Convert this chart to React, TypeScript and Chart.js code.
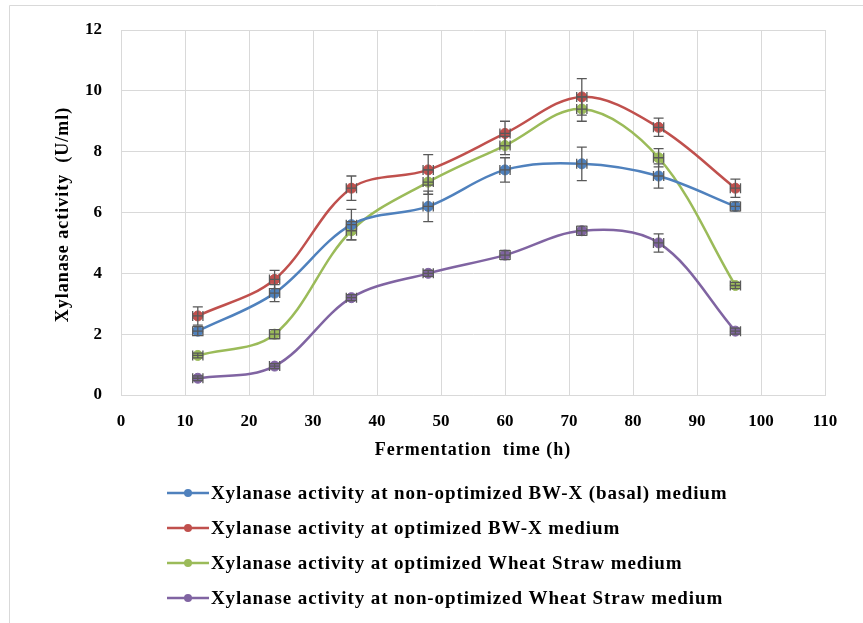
import { useEffect, useRef } from "react";
import { Chart, registerables } from "chart.js";

Chart.register(...registerables);

// ---- data ----
const timeHours = [12, 24, 36, 48, 60, 72, 84, 96];

const basalBWX = [2.1, 3.35, 5.6, 6.2, 7.4, 7.6, 7.2, 6.2];
const basalBWXErr = [0.15, 0.28, 0.5, 0.5, 0.4, 0.55, 0.4, 0.15];

const optimizedBWX = [2.6, 3.8, 6.8, 7.4, 8.6, 9.8, 8.8, 6.8];
const optimizedBWXErr = [0.3, 0.3, 0.4, 0.5, 0.4, 0.6, 0.3, 0.3];

const optimizedWheat = [1.3, 2.0, 5.4, 7.0, 8.2, 9.4, 7.8, 3.6];
const optimizedWheatErr = [0.08, 0.15, 0.3, 0.4, 0.3, 0.4, 0.3, 0.1];

const nonOptimizedWheat = [0.55, 0.95, 3.2, 4.0, 4.6, 5.4, 5.0, 2.1];
const nonOptimizedWheatErr = [0.08, 0.08, 0.1, 0.1, 0.15, 0.15, 0.3, 0.1];

const timeErr = 0.8;

const seriesLabels = [
  "Xylanase activity at non-optimized BW-X (basal) medium",
  "Xylanase activity at optimized BW-X medium",
  "Xylanase activity at optimized Wheat Straw medium",
  "Xylanase activity at non-optimized Wheat Straw medium",
];
const seriesValues = [basalBWX, optimizedBWX, optimizedWheat, nonOptimizedWheat];
const seriesErrors = [basalBWXErr, optimizedBWXErr, optimizedWheatErr, nonOptimizedWheatErr];
const seriesColors = ["#4F81BD", "#C0504D", "#9BBB59", "#8064A2"];

const xAxisTitle = "Fermentation  time (h)";
const yAxisTitle = "Xylanase activity  (U/ml)";
const xMin = 0, xMax = 110, xStep = 10;
const yMin = 0, yMax = 12, yStep = 2;

const FONT = "'Liberation Serif', 'Times New Roman', serif";
const GRID = "#d9d9d9";

const framePlugin = {
  id: "frame",
  beforeDraw(chart: any) {
    const c = chart.ctx;
    c.save();
    c.fillStyle = "#ffffff";
    c.fillRect(0, 0, chart.width, chart.height);
    c.strokeStyle = GRID;
    c.lineWidth = 1;
    c.beginPath();
    c.moveTo(9.5, chart.height);
    c.lineTo(9.5, 5.5);
    c.lineTo(chart.width, 5.5);
    c.stroke();
    c.restore();
  },
};

const errorBarPlugin = {
  id: "errorBars",
  afterDatasetsDraw(chart: any) {
    const c = chart.ctx;
    const xs = chart.scales.x;
    const ys = chart.scales.y;
    c.save();
    c.strokeStyle = "#595959";
    c.lineWidth = 1.3;
    seriesErrors.forEach((errs, si) => {
      const vals = seriesValues[si];
      timeHours.forEach((t, i) => {
        const px = xs.getPixelForValue(t);
        const py = ys.getPixelForValue(vals[i]);
        const top = ys.getPixelForValue(vals[i] + errs[i]);
        const bot = ys.getPixelForValue(vals[i] - errs[i]);
        const l = xs.getPixelForValue(t - timeErr);
        const r = xs.getPixelForValue(t + timeErr);
        c.beginPath();
        c.moveTo(px, top);
        c.lineTo(px, bot);
        c.moveTo(px - 5, top);
        c.lineTo(px + 5, top);
        c.moveTo(px - 5, bot);
        c.lineTo(px + 5, bot);
        c.moveTo(l, py);
        c.lineTo(r, py);
        c.moveTo(l, py - 5);
        c.lineTo(l, py + 5);
        c.moveTo(r, py - 5);
        c.lineTo(r, py + 5);
        c.stroke();
      });
    });
    c.restore();
  },
};

const titlesAndLegendPlugin = {
  id: "titlesAndLegend",
  afterDraw(chart: any) {
    const c = chart.ctx;
    const area = chart.chartArea;
    c.save();
    c.fillStyle = "#000000";
    c.font = `bold 18px ${FONT}`;
    c.textAlign = "center";
    c.textBaseline = "middle";
    (c as any).letterSpacing = "1px";
    // x-axis title
    c.fillText(xAxisTitle, (area.left + area.right) / 2, 450);
    // y-axis title
    c.save();
    c.translate(63, (area.top + area.bottom) / 2 + 2);
    c.rotate(-Math.PI / 2);
    c.fillText(yAxisTitle, 0, 0);
    c.restore();

    // legend
    chart.data.datasets.forEach((ds: any, i: number) => {
      const y = 493 + i * 35;
      c.strokeStyle = ds.borderColor;
      c.lineWidth = 2.5;
      c.beginPath();
      c.moveTo(167, y);
      c.lineTo(209, y);
      c.stroke();
      c.fillStyle = ds.borderColor;
      c.beginPath();
      c.arc(188, y, 4, 0, Math.PI * 2);
      c.fill();
      c.fillStyle = "#000000";
      c.font = `bold 19px ${FONT}`;
      (c as any).letterSpacing = "0.9px";
      c.textBaseline = "middle";
      c.textAlign = "left";
      c.fillText(ds.label, 211, y + 1);
    });
    c.restore();
  },
};

export default function App() {
  const canvasRef = useRef<HTMLCanvasElement>(null);

  useEffect(() => {
    const canvas = canvasRef.current;
    if (!canvas) return;
    const chart = new Chart(canvas, {
      type: "line",
      data: {
        datasets: seriesLabels.map((label, si) => ({
          label,
          data: timeHours.map((t, i) => ({ x: t, y: seriesValues[si][i] })),
          borderColor: seriesColors[si],
          backgroundColor: seriesColors[si],
          pointBackgroundColor: seriesColors[si],
          pointBorderColor: seriesColors[si],
          pointRadius: 5,
          pointBorderWidth: 1,
          borderWidth: 2.5,
          tension: 0.35,
          fill: false,
        })),
      },
      options: {
        animation: false,
        responsive: false,
        devicePixelRatio: 1,
        layout: { padding: { top: 30, right: 38, bottom: 158, left: 0 } },
        plugins: {
          legend: { display: false },
          tooltip: { enabled: false },
        },
        scales: {
          x: {
            type: "linear",
            min: xMin,
            max: xMax,
            ticks: {
              stepSize: xStep,
              color: "#000000",
              font: { family: FONT, size: 17, weight: "bold" },
              padding: 16,
              maxRotation: 0,
            },
            grid: { color: GRID, drawTicks: false },
            border: { color: GRID },
            title: { display: false },
            afterFit(scale: any) {
              scale.height = 70;
            },
          },
          y: {
            type: "linear",
            min: yMin,
            max: yMax,
            ticks: {
              stepSize: yStep,
              color: "#000000",
              font: { family: FONT, size: 17, weight: "bold" },
              padding: 19,
            },
            grid: { color: GRID, drawTicks: false },
            border: { color: GRID },
            title: { display: false },
            afterFit(scale: any) {
              scale.width = 121;
            },
          },
        },
      },
      plugins: [framePlugin, errorBarPlugin, titlesAndLegendPlugin],
    });
    return () => chart.destroy();
  }, []);

  return (
    <div style={{ position: "absolute", left: 0, top: 0, width: 863, height: 623, background: "#ffffff" }}>
      <canvas ref={canvasRef} width={863} height={623} style={{ display: "block", width: 863, height: 623 }} />
    </div>
  );
}
